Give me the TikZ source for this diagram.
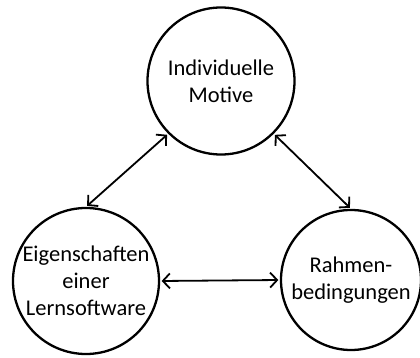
\documentclass[tikz,border=0pt]{standalone}
\usepackage{fontspec}
\setmainfont{Carlito}
\usetikzlibrary{arrows.meta}
\begin{document}
\begin{tikzpicture}[x=1pt,y=-1pt,
  >={Straight Barb[length=7pt,width=15pt,line width=1.8pt]},
  topic/.style={circle,draw=black,line width=2.3pt,inner sep=0pt,align=center,
    font=\fontsize{22.5}{27}\selectfont},
  link/.style={line width=1.8pt,<->,shorten <=1.5pt,shorten >=1.5pt}]
  \useasboundingbox (0,0) rectangle (420,358);
  \node[topic,minimum size=147pt] (mot) at (221,81) {Individuelle\\Motive};
  \node[topic,minimum size=146pt] (ls) at (86,281) {Eigenschaften\\einer\\Lernsoftware};
  \node[topic,minimum size=140pt] (rb) at (351,280) {Rahmen-\\bedingungen};
  \draw[link] (mot.-135) -- (ls.north);
  \draw[link] (mot.-45) -- (rb.north);
  \draw[link] (ls.east) -- (rb.west);
\end{tikzpicture}
\end{document}
